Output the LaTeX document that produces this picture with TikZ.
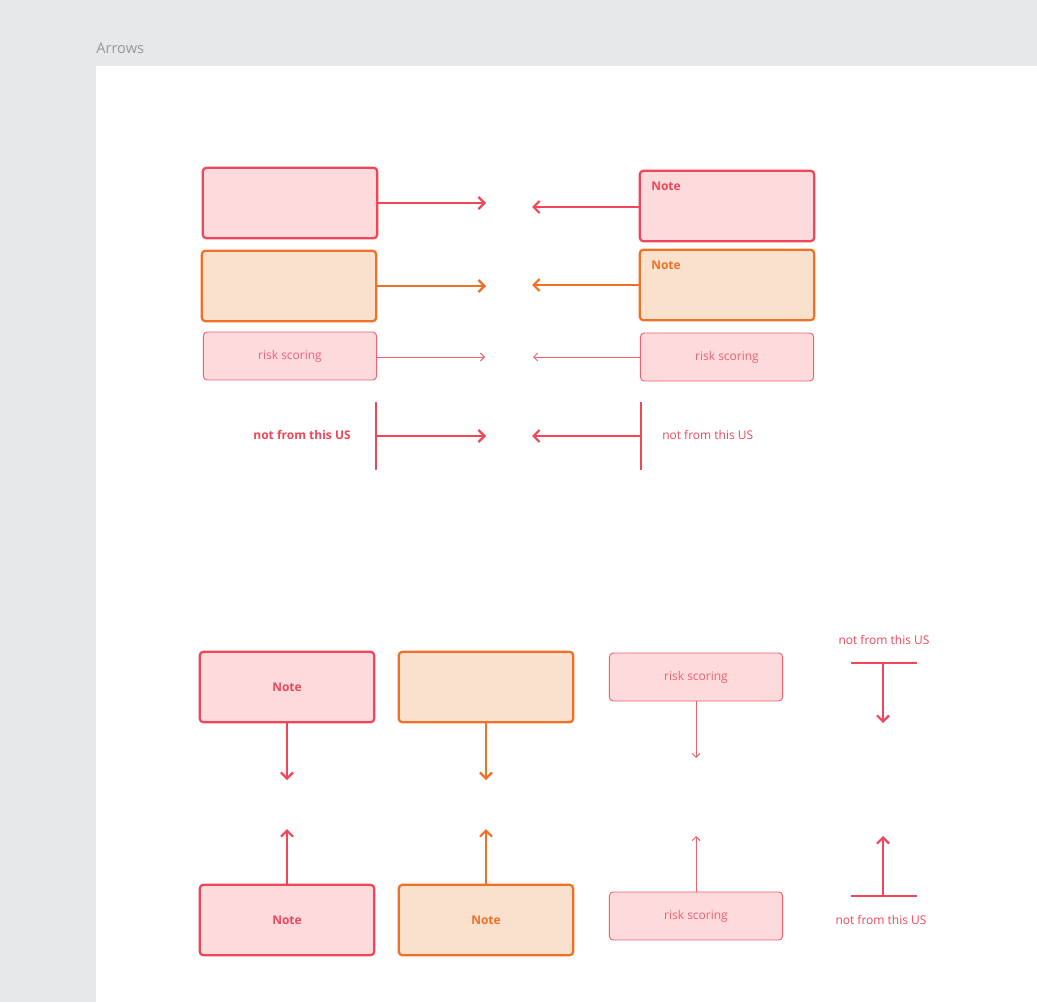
\documentclass[tikz,border=0pt]{standalone}
\usepackage{fontspec}
\setmainfont{Open Sans}
\usetikzlibrary{arrows.meta}
\definecolor{nred}{HTML}{F0465A}
\definecolor{npink}{HTML}{FDDADC}
\definecolor{norange}{HTML}{EF7128}
\definecolor{npeach}{HTML}{FAE1CD}
\definecolor{ngray}{HTML}{E7E8EA}
\definecolor{nthin}{HTML}{F1606F}
\begin{document}
\begin{tikzpicture}
        [x=0.75pt, y=-0.75pt,
        redbox/.style={draw=nred, fill=npink, line width=1.7pt, rounded corners=3pt, minimum width=131pt, minimum height=53pt, font=\fontsize{9}{10}\selectfont\bfseries, text=nred},
        orbox/.style={draw=norange, fill=npeach, line width=1.7pt, rounded corners=3pt, minimum width=131pt, minimum height=53pt, font=\fontsize{9}{10}\selectfont\bfseries, text=norange},
        thinbox/.style={draw=nthin, fill=npink, line width=0.7pt, rounded corners=3pt, minimum width=130pt, minimum height=36pt, font=\fontsize{9}{10}\selectfont, text=nthin},
        redarr/.style={nred, line width=1.7pt, -{Straight Barb[length=4.5pt, width=9pt]}},
        orarr/.style={norange, line width=1.7pt, -{Straight Barb[length=4.5pt, width=9pt]}},
        thinarr/.style={nthin, line width=0.7pt, -{Straight Barb[length=3pt, width=6pt]}},
        bar/.style={nred, line width=1.7pt},
        lbl/.style={text=nred, font=\fontsize{9}{10}\selectfont, inner sep=0pt},
        inner sep=2pt]

        \fill[ngray] (0,0) rectangle (1037,1002);
        \fill[white] (96,66) rectangle (1037,1002);
        \node[anchor=west, text=gray!80, font=\fontsize{11}{12}\selectfont, inner sep=0pt] (title) at (96,48) {Arrows};

        % horizontal rows
        \node[redbox] (rl1) at (290,203) {};
        \node[redbox] (rr1) at (727,206) {};
        \node[lbl, anchor=north west, font=\fontsize{9}{10}\selectfont\bfseries] (n1) at (651,182) {Note};
        \coordinate (e1) at (486,203);
        \coordinate (w1) at (532,207);
        \draw[redarr] (rl1.east |- e1) -- (e1);
        \draw[redarr] (rr1.west |- w1) -- (w1);

        \node[orbox] (ol2) at (289,286) {};
        \node[orbox] (or2) at (727,285) {};
        \node[lbl, text=norange, anchor=north west, font=\fontsize{9}{10}\selectfont\bfseries] (n2) at (651,261) {Note};
        \coordinate (e2) at (486,286);
        \coordinate (w2) at (532,285);
        \draw[orarr] (ol2.east |- e2) -- (e2);
        \draw[orarr] (or2.west |- w2) -- (w2);

        \node[thinbox] (tl3) at (290,356) {risk scoring};
        \node[thinbox] (tr3) at (727,357) {risk scoring};
        \coordinate (e3) at (485,357);
        \coordinate (w3) at (533,357);
        \draw[thinarr] (tl3.east |- e3) -- (e3);
        \draw[thinarr] (tr3.west |- w3) -- (w3);

        \coordinate (bl4t) at (376,402);
        \coordinate (bl4b) at (376,470);
        \coordinate (bl4m) at (376,436);
        \coordinate (br4t) at (641,402);
        \coordinate (br4b) at (641,470);
        \coordinate (br4m) at (641,436);
        \coordinate (e4) at (486,436);
        \coordinate (w4) at (532,436);
        \draw[bar] (bl4t) -- (bl4b);
        \draw[bar] (br4t) -- (br4b);
        \draw[redarr] (bl4m) -- (e4);
        \draw[redarr] (br4m) -- (w4);
        \node[lbl, anchor=east, font=\fontsize{9}{10}\selectfont\bfseries] (nf1) at (351,435) {not from this US};
        \node[lbl, anchor=west] (nf2) at (662,435) {not from this US};

        % vertical columns, top
        \node[redbox] (ct1) at (287,687) {Note};
        \node[orbox] (ct2) at (486,687) {};
        \node[thinbox] (ct3) at (696,677) {risk scoring};
        \coordinate (s1) at (287,780);
        \coordinate (s2) at (486,780);
        \coordinate (s3) at (696,758);
        \draw[redarr] (ct1.south) -- (s1);
        \draw[orarr] (ct2.south) -- (s2);
        \draw[thinarr] (ct3.south) -- (s3);
        \node[lbl] (nf3) at (884,640) {not from this US};
        \coordinate (bt4l) at (851,663);
        \coordinate (bt4r) at (917,663);
        \coordinate (bt4m) at (883,663);
        \coordinate (s4) at (883,723);
        \draw[bar] (bt4l) -- (bt4r);
        \draw[redarr] (bt4m) -- (s4);

        % vertical columns, bottom
        \node[redbox] (cb1) at (287,920) {Note};
        \node[orbox] (cb2) at (486,920) {Note};
        \node[thinbox] (cb3) at (696,916) {risk scoring};
        \coordinate (u1) at (287,829);
        \coordinate (u2) at (486,829);
        \coordinate (u3) at (696,836);
        \draw[redarr] (cb1.north) -- (u1);
        \draw[orarr] (cb2.north) -- (u2);
        \draw[thinarr] (cb3.north) -- (u3);
        \coordinate (bb4l) at (851,896);
        \coordinate (bb4r) at (917,896);
        \coordinate (bb4m) at (883,896);
        \coordinate (u4) at (883,836);
        \draw[bar] (bb4l) -- (bb4r);
        \draw[redarr] (bb4m) -- (u4);
        \node[lbl] (nf4) at (881,920) {not from this US};

\end{tikzpicture}
\end{document}
